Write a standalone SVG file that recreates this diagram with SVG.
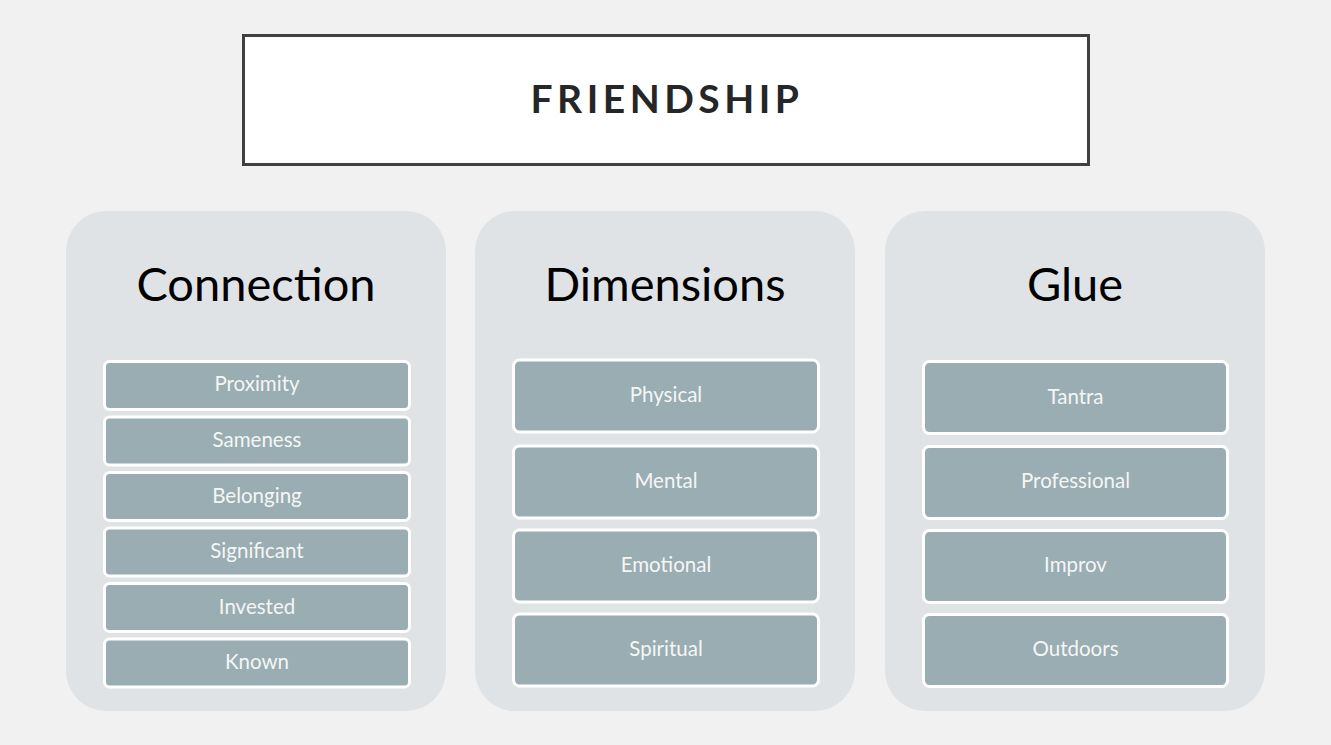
<svg xmlns="http://www.w3.org/2000/svg" width="1331" height="745" viewBox="0 0 1331 745">
<style>
.panel{fill:#dfe3e5}
.item{fill:#9aadb2;stroke:#ffffff;stroke-width:3}
.head{font-family:Lato,"Open Sans",sans-serif;font-size:47px;fill:#000;text-anchor:middle}
.lbl{font-family:Lato,"Open Sans",sans-serif;font-size:20.5px;fill:#f4f6f6;text-anchor:middle;dominant-baseline:central}
.title{font-family:Lato,"Open Sans",sans-serif;font-size:39px;font-weight:bold;fill:#262626;text-anchor:middle;letter-spacing:4.5px}
</style>
<rect width="1331" height="745" fill="#f1f1f1"/>
<g id="title">
<rect x="243.5" y="35.5" width="845" height="129" fill="#fff" stroke="#404040" stroke-width="3"/>
<text class="title" x="667" y="113">FRIENDSHIP</text>
</g>
<g id="connection">
<rect class="panel" x="66" y="211" width="380" height="500" rx="40"/>
<text class="head" x="256" y="301">Connection</text>
<g id="proximity"><rect class="item" x="104.5" y="361.5" width="305" height="48" rx="5"/><text class="lbl" x="257" y="383">Proximity</text></g>
<g id="sameness"><rect class="item" x="104.5" y="417" width="305" height="48" rx="5"/><text class="lbl" x="257" y="439">Sameness</text></g>
<g id="belonging"><rect class="item" x="104.5" y="472.5" width="305" height="48" rx="5"/><text class="lbl" x="257" y="494.5">Belonging</text></g>
<g id="significant"><rect class="item" x="104.5" y="528" width="305" height="48" rx="5"/><text class="lbl" x="257" y="550">Significant</text></g>
<g id="invested"><rect class="item" x="104.5" y="583.5" width="305" height="48" rx="5"/><text class="lbl" x="257" y="605.5">Invested</text></g>
<g id="known"><rect class="item" x="104.5" y="639" width="305" height="48" rx="5"/><text class="lbl" x="257" y="661">Known</text></g>
</g>
<g id="dimensions">
<rect class="panel" x="475" y="211" width="380" height="500" rx="40"/>
<text class="head" x="665" y="301">Dimensions</text>
<g id="physical"><rect class="item" x="513.5" y="360" width="305" height="72" rx="6"/><text class="lbl" x="666" y="394">Physical</text></g>
<g id="mental"><rect class="item" x="513.5" y="446" width="305" height="72" rx="6"/><text class="lbl" x="666" y="480">Mental</text></g>
<g id="emotional"><rect class="item" x="513.5" y="530" width="305" height="72" rx="6"/><text class="lbl" x="666" y="564">Emotional</text></g>
<g id="spiritual"><rect class="item" x="513.5" y="614" width="305" height="72" rx="6"/><text class="lbl" x="666" y="648">Spiritual</text></g>
</g>
<g id="glue">
<rect class="panel" x="885" y="211" width="380" height="500" rx="40"/>
<text class="head" x="1075" y="301">Glue</text>
<g id="tantra"><rect class="item" x="923.5" y="361.5" width="304" height="72" rx="6"/><text class="lbl" x="1075.5" y="396">Tantra</text></g>
<g id="professional"><rect class="item" x="923.5" y="446.5" width="304" height="72" rx="6"/><text class="lbl" x="1075.5" y="480">Professional</text></g>
<g id="improv"><rect class="item" x="923.5" y="530.5" width="304" height="72" rx="6"/><text class="lbl" x="1075.5" y="564">Improv</text></g>
<g id="outdoors"><rect class="item" x="923.5" y="614.5" width="304" height="72" rx="6"/><text class="lbl" x="1075.5" y="648">Outdoors</text></g>
</g>
</svg>
